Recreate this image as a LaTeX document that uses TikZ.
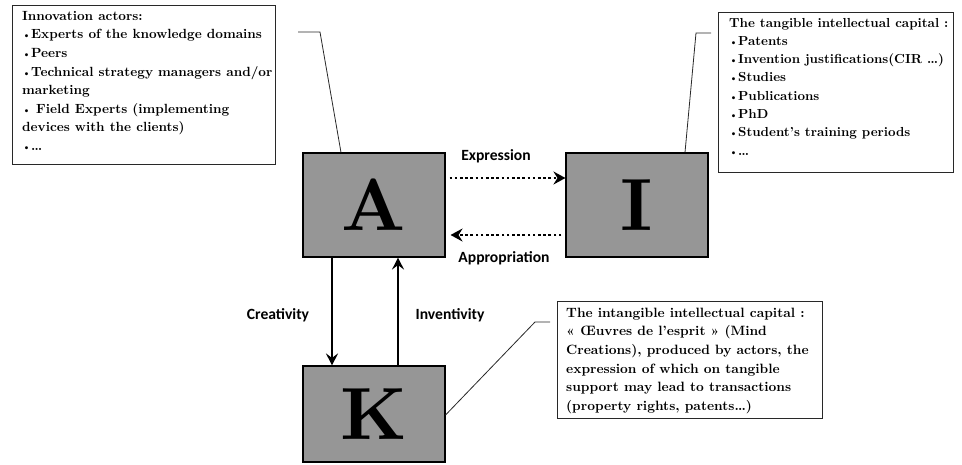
\documentclass[tikz,border=0pt]{standalone}
\usepackage{fontspec}
\newfontfamily\labelfont{Carlito}
\newfontfamily\notefont{lmroman10-bold.otf}
\usetikzlibrary{arrows.meta,calc}
\definecolor{boxgray}{RGB}{150,150,150}
\definecolor{edge}{RGB}{40,40,40}
\newcommand{\bul}{{\fontsize{10}{10}\selectfont •}}
\tikzset{
  letterbox/.style={draw=black, line width=1.1pt, fill=boxgray, minimum width=142pt, minimum height=104pt, inner sep=0pt,
    font=\notefont\fontsize{74}{74}\selectfont},
  notebox/.style={draw=edge, line width=0.9pt, inner sep=0pt},
  notetext/.style={anchor=north west, inner sep=0pt, align=left},
  bigtext/.style={font=\notefont\fontsize{13.3}{18.6}\selectfont},
  smalltext/.style={font=\notefont\fontsize{13.1}{18.3}\selectfont},
  midtext/.style={font=\notefont\fontsize{13.5}{18.6}\selectfont},
  flowlabel/.style={inner sep=0pt, font=\labelfont\bfseries\fontsize{15.6}{17}\selectfont},
  dotarrow/.style={line width=2.6pt, dash pattern=on 2.6pt off 2.6pt, -{Stealth[length=12pt,width=13pt,inset=4pt]}},
  solidarrow/.style={line width=2.4pt, -{Stealth[length=12pt,width=12pt,inset=4.5pt]}},
  callout/.style={draw=edge, line width=0.8pt}
}
\begin{document}
\begin{tikzpicture}[x=1pt,y=-1pt]
\useasboundingbox (0,0) rectangle (962,464);
% main boxes
\node[letterbox] (A) at (374,205) {A};
\node[letterbox] (I) at (637,205) {I};
\node[letterbox, minimum height=96pt] (K) at (374,414) {K};
% note boxes
\node[notebox, anchor=north west, minimum width=263pt, minimum height=159pt] (actors) at (12,5) {};
\node[notetext, bigtext] (actorsText) at ([shift={(10,2)}]actors.north west) {\strut Innovation actors:\\
\bul Experts of the knowledge domains\\
\bul Peers\\
\bul Technical strategy managers and/or\\
marketing\\
\bul{} Field Experts (implementing\\
devices with the clients)\\
\bul …};
\node[notebox, anchor=north west, minimum width=235pt, minimum height=160pt] (tangible) at (718,12) {};
\node[notetext, smalltext] (tangibleText) at ([shift={(11,2)}]tangible.north west) {\strut The tangible intellectual capital :\\
\bul Patents\\
\bul Invention justifications(CIR …)\\
\bul Studies\\
\bul Publications\\
\bul PhD\\
\bul Student’s training periods\\
\bul …};
\node[notebox, anchor=north west, minimum width=265pt, minimum height=117pt] (intang) at (557,301) {};
\node[notetext, midtext] (intangText) at ([shift={(9,3)}]intang.north west) {\strut The intangible intellectual capital :\\
« Œuvres de l’esprit » (Mind\\
Creations), produced by actors, the\\
expression of which on tangible\\
support may lead to transactions\\
(property rights, patents…)};
% flow arrows
\draw[dotarrow] ([shift={(4,-27)}]A.east) -- ([yshift=27pt]I.west);
\draw[dotarrow] ([shift={(-4,30)}]I.west) -- ([shift={(5,30)}]A.east);
\draw[solidarrow] ([xshift=-42pt]A.south) -- ([xshift=-42pt]K.north);
\draw[solidarrow] ([xshift=24pt]K.north) -- ([xshift=24pt]A.south);
% labels
\node[flowlabel] (lexp) at (496,156) {Expression};
\node[flowlabel] (lapp) at (504,258) {Appropriation};
\node[flowlabel] (lcre) at (278,315) {Creativity};
\node[flowlabel] (linv) at (450,315) {Inventivity};
% callouts
\coordinate (ca) at (320,32);
\coordinate (caEnd) at (298,32);
\coordinate (cb) at (696,33);
\coordinate (cbEnd) at (711,33);
\coordinate (cc) at (535,322);
\coordinate (ccEnd) at (550,322);
\draw[callout] ([xshift=-33pt]A.north) -- (ca) -- (caEnd);
\draw[callout] ([xshift=48pt]I.north) -- (cb) -- (cbEnd);
\draw[callout] ([yshift=-1pt]K.east) -- (cc) -- (ccEnd);
\end{tikzpicture}
\end{document}
